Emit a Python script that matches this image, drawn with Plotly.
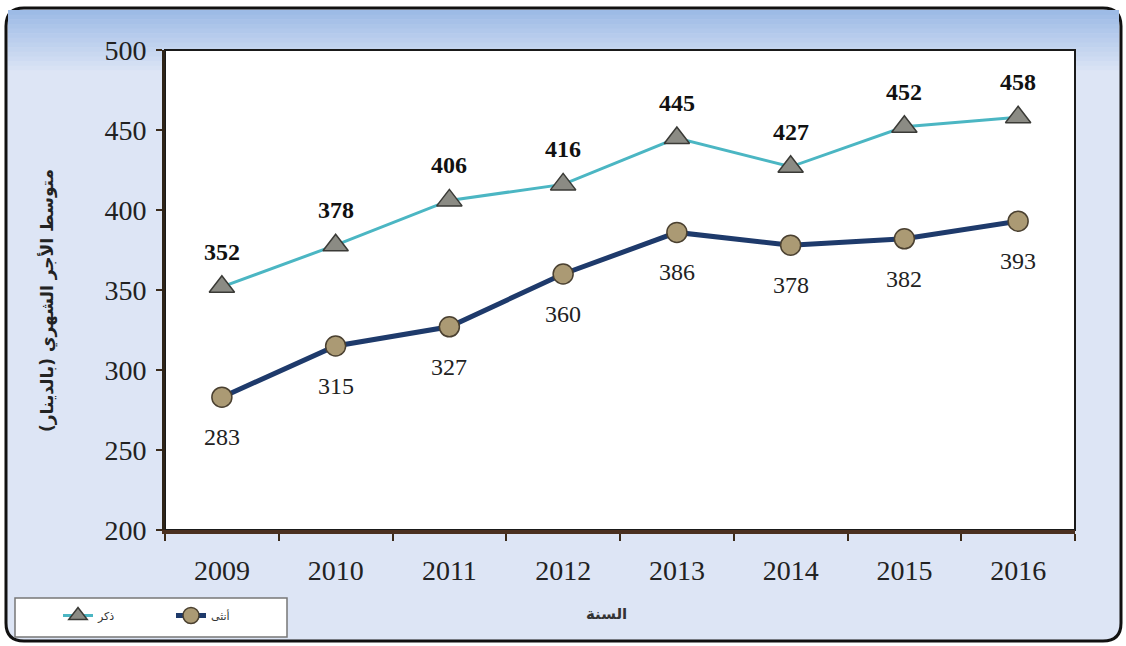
import plotly.graph_objects as go

years = ["2009", "2010", "2011", "2012", "2013", "2014", "2015", "2016"]
male = [352, 378, 406, 416, 445, 427, 452, 458]
female = [283, 315, 327, 360, 386, 378, 382, 393]
y_ticks = [200, 250, 300, 350, 400, 450, 500]
male_name = "ذكر"
female_name = "أنثى"
x_title = "السنة"
y_title = "متوسط الأجر الشهري (بالدينار)"

W, H = 1126, 646
L, R, T, B = 165, 1075, 50, 530


def px(x):
    return (x - L) / (R - L)


def py(y):
    return (B - y) / (B - T)


def rounded_path(x0, y0, x1, y1, r):
    pts = [
        ("M", [(x0 + r, y0)]),
        ("L", [(x1 - r, y0)]),
        ("Q", [(x1, y0), (x1, y0 + r)]),
        ("L", [(x1, y1 - r)]),
        ("Q", [(x1, y1), (x1 - r, y1)]),
        ("L", [(x0 + r, y1)]),
        ("Q", [(x0, y1), (x0, y1 - r)]),
        ("L", [(x0, y0 + r)]),
        ("Q", [(x0, y0), (x0 + r, y0)]),
    ]
    s = ""
    for cmd, ps in pts:
        s += cmd + " " + " ".join(f"{px(a):.5f},{py(b):.5f}" for a, b in ps) + " "
    return s + "Z"


def lerp_col(c1, c2, t):
    a = [int(c1[i:i + 2], 16) for i in (1, 3, 5)]
    b = [int(c2[i:i + 2], 16) for i in (1, 3, 5)]
    return "rgb(%d,%d,%d)" % tuple(round(a[k] + (b[k] - a[k]) * t) for k in range(3))


shapes = []
bg = "#dde5f5"
shapes.append(dict(type="path", xref="paper", yref="paper", layer="below",
                   path=rounded_path(6, 8, 1121, 641, 18),
                   fillcolor=bg, line=dict(color="#111111", width=3)))
# top gradient band
n = 14
top, bot = 10, 75
for i in range(n):
    y0 = top + (bot - top) * i / n
    y1 = top + (bot - top) * (i + 1) / n
    shapes.append(dict(type="rect", xref="paper", yref="paper", layer="below",
                       x0=px(8), x1=px(1119), y0=py(y0), y1=py(y1 + 0.5),
                       fillcolor=lerp_col("#9dbbe6", bg, i / (n - 1)), line=dict(width=0)))
# plot area
shapes.append(dict(type="rect", xref="paper", yref="paper", layer="below",
                   x0=0, x1=1, y0=0, y1=1, fillcolor="white",
                   line=dict(color="#1a1a1a", width=2)))
# legend box
shapes.append(dict(type="rect", xref="paper", yref="paper", layer="above",
                   x0=px(15), x1=px(287), y0=py(598), y1=py(637), fillcolor="white",
                   line=dict(color="#777777", width=1.5)))

fig = go.Figure()
fig.add_trace(go.Scatter(
    x=years, y=male, name=male_name, mode="lines+markers",
    line=dict(color="#4bb6c3", width=3),
    marker=dict(symbol="triangle-up", size=22, color="#8b8b84",
                line=dict(color="#3a3a36", width=1.5)),
))
fig.add_trace(go.Scatter(
    x=years, y=female, name=female_name, mode="lines+markers",
    line=dict(color="#1e3a6b", width=5),
    marker=dict(symbol="circle", size=20, color="#ab9a74",
                line=dict(color="#4a4030", width=1.5)),
))

annotations = []
for i, yv in enumerate(male):
    annotations.append(dict(x=i, y=yv, text=f"<b>{yv}</b>", showarrow=False,
                            yshift=35, font=dict(family="Liberation Serif", size=24, color="#111111")))
for i, yv in enumerate(female):
    annotations.append(dict(x=i, y=yv, text=str(yv), showarrow=False,
                            yshift=-40, font=dict(family="Liberation Serif", size=24, color="#222222")))
annotations.append(dict(xref="paper", yref="paper", x=px(47), y=py(300), text=f"<b>{y_title}</b>",
                        textangle=-90, showarrow=False, xanchor="center", yanchor="middle",
                        font=dict(family="DejaVu Sans", size=17, color="#222222")))
annotations.append(dict(xref="paper", yref="paper", x=px(606), y=py(614), text=f"<b>{x_title}</b>",
                        showarrow=False, xanchor="center", yanchor="middle",
                        font=dict(family="DejaVu Sans", size=15, color="#333333")))

fig.update_layout(
    width=W, height=H,
    margin=dict(l=L, r=W - R, t=T, b=H - B),
    paper_bgcolor="white", plot_bgcolor="rgba(0,0,0,0)",
    shapes=shapes, annotations=annotations,
    showlegend=True,
    legend=dict(orientation="h", x=px(58), y=py(601), xanchor="left", yanchor="top",
                bgcolor="rgba(0,0,0,0)", borderwidth=0,
                entrywidth=68, entrywidthmode="pixels",
                font=dict(family="DejaVu Sans", size=11, color="#333333")),
    xaxis=dict(type="category", range=[-0.5, len(years) - 0.5], tickson="boundaries",
               ticks="outside", ticklen=7,
               tickwidth=2, tickcolor="#3a2a1a", showline=True, linecolor="#4a3020",
               linewidth=4, showgrid=False, zeroline=False,
               tickfont=dict(family="Liberation Serif", size=28, color="#222222"),
               ticklabelstandoff=12),
    yaxis=dict(range=[200, 500], tickvals=y_ticks, ticks="outside", ticklen=6,
               tickwidth=2, tickcolor="#3a2a1a", showline=True, linecolor="#2e2418",
               linewidth=3, showgrid=False, zeroline=False,
               tickfont=dict(family="Liberation Serif", size=28, color="#222222"),
               ticklabelstandoff=4),
)

fig.write_html("out.html", config={"displayModeBar": False},
               post_script="document.body.style.margin='0';document.body.style.overflow='hidden';")
